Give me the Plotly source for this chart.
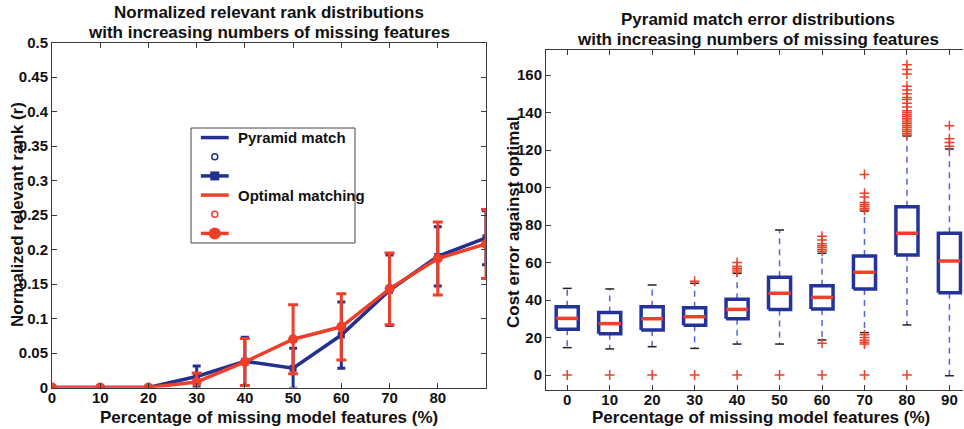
import plotly.graph_objects as go

# ---------------- Left chart data ----------------
pct = [0, 10, 20, 30, 40, 50, 60, 70, 80, 90]
pyr_mean = [0, 0, 0, 0.016, 0.038, 0.028, 0.076, 0.141, 0.190, 0.217]
pyr_err = [0, 0, 0, 0.015, 0.035, 0.029, 0.048, 0.051, 0.043, 0.039]
opt_mean = [0, 0, 0, 0.008, 0.037, 0.070, 0.088, 0.143, 0.187, 0.208]
opt_err = [0, 0, 0, 0.013, 0.034, 0.050, 0.048, 0.052, 0.053, 0.050]
left_xticks = [0, 10, 20, 30, 40, 50, 60, 70, 80]
left_yticks = [0, 0.05, 0.1, 0.15, 0.2, 0.25, 0.3, 0.35, 0.4, 0.45, 0.5]
left_yticklabels = ["0", "0.05", "0.1", "0.15", "0.2", "0.25", "0.3", "0.35", "0.4", "0.45", "0.5"]
legend_labels = ["Pyramid match", "", "", "Optimal matching", "", ""]

# ---------------- Right chart data ----------------
box_pos = [0, 10, 20, 30, 40, 50, 60, 70, 80, 90]
q1 = [24.4, 22.0, 24.0, 26.5, 30.0, 35.0, 35.2, 45.9, 64.0, 43.9]
med = [30.2, 27.4, 30.0, 31.1, 35.0, 43.6, 41.4, 54.8, 75.6, 60.8]
q3 = [36.4, 33.4, 36.4, 35.9, 40.4, 52.1, 47.6, 63.5, 89.8, 75.6]
whisk_lo = [14.6, 13.9, 15.1, 14.2, 16.5, 16.5, 18.7, 22.6, 26.7, -0.4]
whisk_hi = [46.2, 45.9, 48.0, 48.9, 54.2, 77.3, 64.9, 87.5, 127.5, 120.5]
out_0 = [0]
out_10 = [0]
out_20 = [0]
out_30 = [0, 50]
out_40 = [0, 55, 56, 57, 58, 60]
out_50 = [0]
out_60 = [0, 17, 66, 67, 68, 69, 70, 72, 74]
out_70 = [0, 16.5, 17.5, 18.5, 20, 21.5, 88, 89, 90, 91, 92, 95, 97, 107]
out_80 = [0, 128, 129, 130, 131, 132, 133, 134, 135, 136, 137, 138, 139, 140,
          141, 143, 145, 147, 148, 150, 152, 154, 160.5, 163, 165.5]
out_90 = [122, 124, 126, 133]
outliers = [out_0, out_10, out_20, out_30, out_40, out_50, out_60, out_70, out_80, out_90]
right_ticks = [0, 10, 20, 30, 40, 50, 60, 70, 80, 90]
right_yticks = [0, 20, 40, 60, 80, 100, 120, 140, 160]

BLUE = "#22308f"
RED = "#ee3f2b"
BOXBLUE = "#24339c"
WHISKBLUE = "#5566d6"
AX = "#3a3a3a"
FONT = "Liberation Sans"
W, H = 964.0, 429.0

fig = go.Figure()

# ---- Left chart traces ----
fig.add_trace(go.Scatter(
    x=pct, y=pyr_mean, mode="lines+markers", xaxis="x", yaxis="y",
    line=dict(color=BLUE, width=3.5), marker=dict(symbol="square", size=7, color=BLUE),
    error_y=dict(type="data", array=pyr_err, color=BLUE, thickness=3, width=4),
    showlegend=False))
fig.add_trace(go.Scatter(
    x=pct, y=opt_mean, mode="lines+markers", xaxis="x", yaxis="y",
    line=dict(color=RED, width=3.5), marker=dict(symbol="circle", size=10, color=RED),
    error_y=dict(type="data", array=opt_err, color=RED, thickness=3, width=5),
    showlegend=False))

# ---- Manual legend (on its own hidden axes, rows 0..5 top to bottom) ----
LX0, LX1, LY0, LY1 = 191, 355, 128, 243
rows = list(range(len(legend_labels)))
row_y = [5.5 - r for r in rows]
fig.add_shape(type="rect", xref="paper", yref="paper",
              x0=LX0 / W, x1=LX1 / W, y0=1 - LY1 / H, y1=1 - LY0 / H,
              line=dict(color="#444444", width=1), fillcolor="rgba(0,0,0,0)", layer="below")
for r, col, kind in zip(rows, [BLUE] * 3 + [RED] * 3, ["line", "circ", "err"] * 2):
    yy = row_y[r]
    if kind in ("line", "err"):
        fig.add_trace(go.Scatter(x=[0.6, 2.3], y=[yy, yy], mode="lines", xaxis="x3", yaxis="y3",
                                 line=dict(color=col, width=3.5), showlegend=False))
    if kind == "circ":
        fig.add_trace(go.Scatter(x=[1.45], y=[yy], mode="markers", xaxis="x3", yaxis="y3",
                                 marker=dict(symbol="circle-open", size=6, color=col,
                                             line=dict(width=1.5, color=col)), showlegend=False))
    if kind == "err":
        sym, sz = ("square", 9) if col == BLUE else ("circle", 12)
        fig.add_trace(go.Scatter(x=[1.45], y=[yy], mode="markers", xaxis="x3", yaxis="y3",
                                 marker=dict(symbol=sym, size=sz, color=col), showlegend=False))
for r, lab in zip(rows, legend_labels):
    if lab:
        fig.add_annotation(text=lab, x=2.75, y=row_y[r], xref="x3", yref="y3", showarrow=False,
                           xanchor="left", yanchor="middle",
                           font=dict(family=FONT, size=15, color="#111111", weight="bold"))

# ---- Right chart traces (boxplots) ----
HALF = 2.6
CAP = 1.05
bx, by, mx, my, wx, wy, cx, cy, ox, oy = [], [], [], [], [], [], [], [], [], []
for p, a, m, b, lo, hi, outs in zip(box_pos, q1, med, q3, whisk_lo, whisk_hi, outliers):
    wx += [p, p, None, p, p, None]
    wy += [b, hi, None, a, lo, None]
    cx += [p - CAP, p + CAP, None, p - CAP, p + CAP, None]
    cy += [hi, hi, None, lo, lo, None]
    bx += [p - HALF, p + HALF, p + HALF, p - HALF, p - HALF, None]
    by += [a, a, b, b, a, None]
    mx += [p - HALF, p + HALF, None]
    my += [m, m, None]
    ox += [p] * len(outs)
    oy += outs

fig.add_trace(go.Scatter(x=wx, y=wy, mode="lines", xaxis="x2", yaxis="y2",
                         line=dict(color=WHISKBLUE, width=1.5, dash="6px,5px"), showlegend=False))
fig.add_trace(go.Scatter(x=cx, y=cy, mode="lines", xaxis="x2", yaxis="y2",
                         line=dict(color="#222222", width=1.5), showlegend=False))
fig.add_trace(go.Scatter(x=bx, y=by, mode="lines", xaxis="x2", yaxis="y2",
                         line=dict(color=BOXBLUE, width=3.5), showlegend=False))
fig.add_trace(go.Scatter(x=mx, y=my, mode="lines", xaxis="x2", yaxis="y2",
                         line=dict(color=RED, width=3.5), showlegend=False))
fig.add_trace(go.Scatter(x=ox, y=oy, mode="markers", xaxis="x2", yaxis="y2",
                         marker=dict(symbol="cross-thin", size=7, color=RED,
                                     line=dict(color=RED, width=1.5)), showlegend=False))

tickfont = dict(family=FONT, size=15, color="#111111", weight="bold")
common = dict(showline=True, linecolor=AX, linewidth=1, ticks="inside", ticklen=5,
              tickcolor=AX, showgrid=False, zeroline=False, tickfont=tickfont,
              automargin=False)

fig.update_layout(
    template="none",
    width=964, height=429, autosize=False,
    margin=dict(l=0, r=0, t=0, b=0, pad=0, autoexpand=False),
    paper_bgcolor="white", plot_bgcolor="rgba(0,0,0,0)",
    font=dict(family=FONT, color="#111111"),
    showlegend=False,
    xaxis=dict(domain=[52 / W, 486 / W], range=[0, 90], tickvals=left_xticks,
               anchor="y", mirror="ticks", ticklabelstandoff=-4, **common),
    yaxis=dict(domain=[(H - 387.5) / H, (H - 42.5) / H], range=[0, 0.5],
               tickvals=left_yticks, ticktext=left_yticklabels, anchor="x",
               mirror="ticks", ticklabelstandoff=0, **common),
    xaxis2=dict(domain=[546 / W, 963 / W], range=[-5, 93.2], tickvals=right_ticks,
                anchor="y2", mirror="ticks", ticklabelstandoff=-4, **common),
    yaxis2=dict(domain=[(H - 390) / H, (H - 49.5) / H], range=[-8, 173.6],
                tickvals=right_yticks, anchor="x2", mirror=False, ticklabelstandoff=0, **common),
    xaxis3=dict(domain=[LX0 / W, LX1 / W], range=[0, 10], visible=False, anchor="y3",
                fixedrange=True),
    yaxis3=dict(domain=[1 - LY1 / H, 1 - LY0 / H], range=[0, 6], visible=False, anchor="x3",
                fixedrange=True),
)

def ann(text, px, py, size=17, angle=0):
    fig.add_annotation(text=text, x=px / W, y=1 - py / H, xref="paper", yref="paper",
                       showarrow=False, textangle=angle, xanchor="center", yanchor="middle",
                       font=dict(family=FONT, size=size, color="#111111", weight="bold"))

ann("Normalized relevant rank distributions", 268.5, 13)
ann("with increasing numbers of missing features", 268.5, 32)
ann("Pyramid match error distributions", 758, 20)
ann("with increasing numbers of missing features", 758, 40)
ann("Percentage of missing model features (%)", 269, 417)
ann("Percentage of missing model features (%)", 761, 417)
ann("Normalized relevant rank (r)", 17, 215, angle=-90)
ann("Cost error against optimal", 513, 222, angle=-90)

fig.write_html("out.html")
